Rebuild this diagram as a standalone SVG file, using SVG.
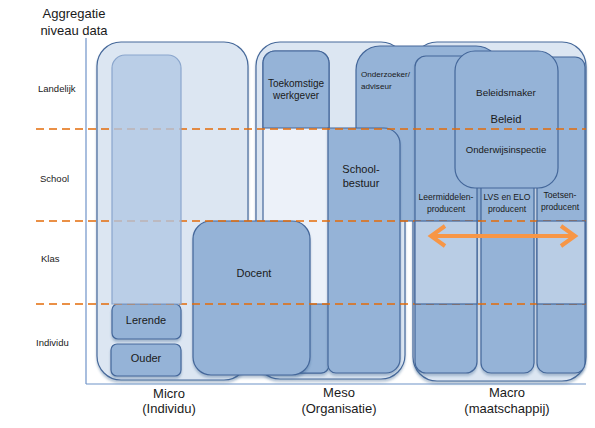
<svg xmlns="http://www.w3.org/2000/svg" width="595" height="428" viewBox="0 0 595 428">
<style>
text{font-family:"Liberation Sans",Arial,sans-serif;fill:#1a1a1a}
.outer{fill:#dce6f2;stroke:#47699a;stroke-width:1.2}
.dark{fill:#95b3d7;stroke:#44679a;stroke-width:1.2}
.light{fill:#b9cde5;stroke:#44679a;stroke-width:1.2}
.pale{fill:#ecf1f9;stroke:#44679a;stroke-width:1.2}
.axis{stroke:#6f93c8;stroke-width:1.2;fill:none}
.dash{stroke:#e46c0a;stroke-width:1.6;stroke-dasharray:8 5;fill:none}
.arr{stroke:#f79646;stroke-width:4;fill:none}
.row{font-size:9.5px}
.lbl{font-size:13px;text-anchor:middle}
.c{text-anchor:middle}
</style>
<defs>
<filter id="sh" x="-10%" y="-10%" width="120%" height="120%">
<feDropShadow dx="0" dy="2.5" stdDeviation="0.8" flood-color="#385d8a" flood-opacity="0.35"/>
</filter>
</defs>

<g id="title">
<text class="lbl" x="74" y="18">Aggregatie</text>
<text class="lbl" x="74" y="35">niveau data</text>
</g>
<g id="axes">
<line class="axis" x1="86" y1="38" x2="86" y2="384"/>
<line class="axis" x1="86" y1="384" x2="586" y2="384"/>
</g>
<g id="rows">
<text class="row" x="38" y="92">Landelijk</text>
<text class="row" x="40" y="182">School</text>
<text class="row" x="41" y="262">Klas</text>
<text class="row" x="36" y="346">Individu</text>
</g>

<g id="micro">
<rect class="outer" x="97" y="42" width="151" height="338" rx="24" filter="url(#sh)"/>
</g>
<g id="meso">
<rect class="outer" x="256" y="42" width="149" height="337" rx="24" filter="url(#sh)"/>
</g>
<g id="macro">
<rect class="outer" x="413" y="42" width="173" height="339" rx="24" filter="url(#sh)"/>
</g>

<g id="meso-column">
<path class="pale" d="M263,373 V63 A12,12 0 0 1 275,51 H317 A12,12 0 0 1 329,63 V365 A8,8 0 0 1 321,373 Z"/>
<path class="dark" d="M263,304 H329 V365 A8,8 0 0 1 321,373 H271 A8,8 0 0 1 263,365 Z" filter="url(#sh)"/>
</g>
<g id="toekomstige-werkgever">
<path class="dark" d="M263,128 V63 A12,12 0 0 1 275,51 H317 A12,12 0 0 1 329,63 V128 Z"/>
<text class="c" x="296" y="87" font-size="10">Toekomstige</text>
<text class="c" x="296" y="99" font-size="10">werkgever</text>
</g>
<g id="onderzoeker">
<rect class="dark" x="356" y="46" width="144" height="175" rx="24"/>
<text x="361" y="77" font-size="8.1">Onderzoeker/</text>
<text x="361" y="89" font-size="8.1">adviseur</text>
</g>
<g id="schoolbestuur">
<path class="dark" d="M328,128 H384 A16,16 0 0 1 400,144 V359 A14,14 0 0 1 386,373 H336 A8,8 0 0 1 328,365 Z" filter="url(#sh)"/>
<text class="c" x="361" y="173" font-size="11">School-</text>
<text class="c" x="361" y="187" font-size="11">bestuur</text>
</g>

<g id="leermiddelen">
<rect class="dark" x="415" y="56" width="62" height="317" rx="11" filter="url(#sh)"/>
<text class="c" x="446" y="200" font-size="8.6">Leermiddelen-</text>
<text class="c" x="446" y="212" font-size="8.6">producent</text>
</g>
<g id="lvs-elo">
<rect class="dark" x="481" y="100" width="53" height="273" rx="10" filter="url(#sh)"/>
<text class="c" x="507" y="200" font-size="8.6">LVS en ELO</text>
<text class="c" x="507" y="212" font-size="8.6">producent</text>
</g>
<g id="toetsen">
<rect class="dark" x="537" y="57" width="48" height="316" rx="10" filter="url(#sh)"/>
<text class="c" x="560" y="198" font-size="8.6">Toetsen-</text>
<text class="c" x="560" y="210" font-size="8.6">producent</text>
</g>
<g id="beleid">
<rect class="dark" x="455" y="51" width="103" height="137" rx="20"/>
<text class="c" x="506" y="96" font-size="9.9">Beleidsmaker</text>
<text class="c" x="506" y="123" font-size="11.2">Beleid</text>
<text class="c" x="506" y="153" font-size="9.6">Onderwijsinspectie</text>
</g>
<g id="docent">
<rect class="dark" x="193" y="221" width="117" height="154" rx="18" filter="url(#sh)"/>
<text class="c" x="254" y="277" font-size="11">Docent</text>
</g>
<g id="lerende">
<rect class="dark" x="112" y="304" width="69" height="35" rx="6" filter="url(#sh)"/>
<text class="c" x="146" y="324" font-size="11">Lerende</text>
</g>
<g id="ouder">
<rect class="dark" x="111" y="344" width="70" height="32" rx="6" filter="url(#sh)"/>
<text class="c" x="146" y="362" font-size="11">Ouder</text>
</g>

<g id="levels">
<line class="dash" x1="36" y1="129" x2="586" y2="129"/>
<line class="dash" x1="36" y1="221" x2="586" y2="221"/>
<line class="dash" x1="36" y1="304" x2="586" y2="304"/>
</g>

<g id="overlays">
<path d="M112,304 V68 A13,13 0 0 1 125,55 H168 A13,13 0 0 1 181,68 V304 Z" fill="#b1c7e4" fill-opacity="0.78" stroke="#8aa6cd" stroke-width="1.2"/>
<rect class="light" x="415" y="221" width="62" height="83"/>
<rect class="light" x="537" y="221" width="48" height="83"/>
</g>

<g id="connectors">
<line class="arr" x1="431" y1="236" x2="575" y2="236"/>
<polyline class="arr" points="445,226 431,236 445,246"/>
<polyline class="arr" points="561,226 575,236 561,246"/>
</g>

<g id="columns">
<text class="lbl" x="169" y="398">Micro</text>
<text class="lbl" x="169" y="413">(Individu)</text>
<text class="lbl" x="339" y="397">Meso</text>
<text class="lbl" x="339" y="413">(Organisatie)</text>
<text class="lbl" x="507" y="397">Macro</text>
<text class="lbl" x="507" y="413">(maatschappij)</text>
</g>
</svg>
